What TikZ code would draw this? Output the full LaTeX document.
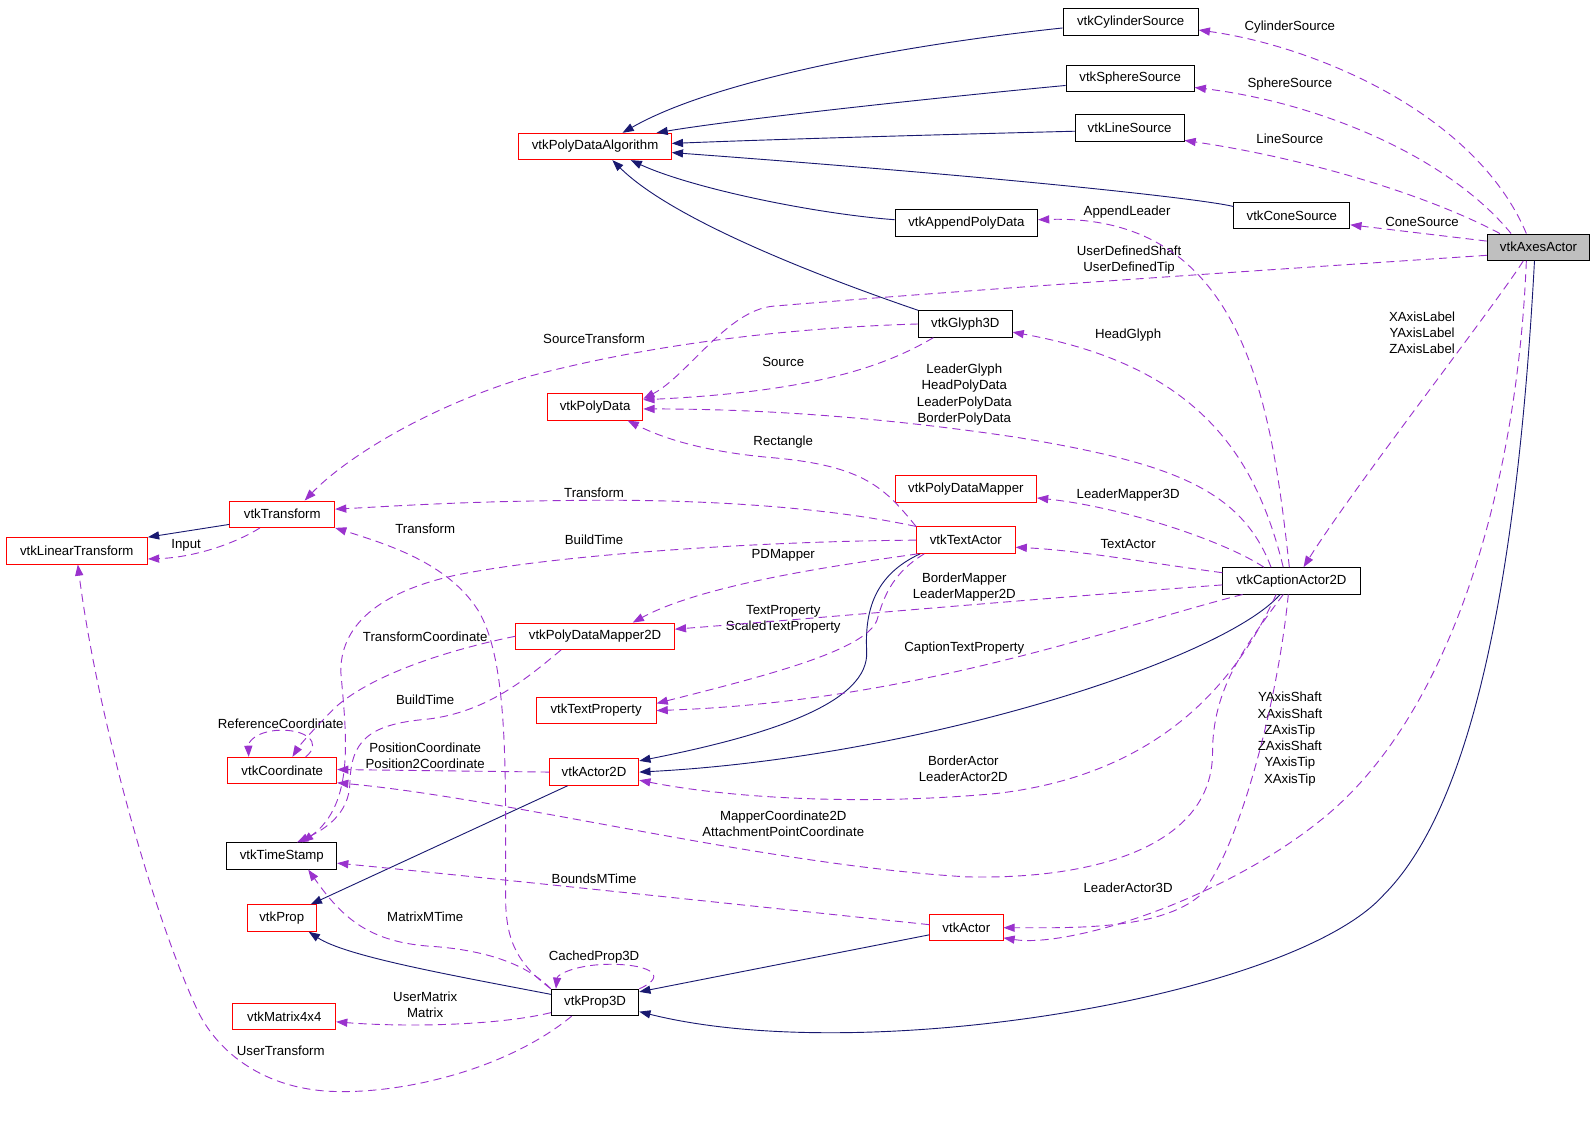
\documentclass[tikz,border=0pt]{standalone}
\usepackage{fontspec}
\setmainfont{Liberation Sans}
\usetikzlibrary{arrows.meta,calc}
\definecolor{edgeblue}{HTML}{191970}
\definecolor{edgepurple}{HTML}{9A32CD}
\begin{document}
\begin{tikzpicture}[x=1pt,y=-1pt,font=\fontsize{13}{16}\selectfont,
  box/.style={draw=black,fill=white,line width=0.9pt,minimum height=26pt,inner sep=0pt},
  isa/.style={draw=edgeblue,line width=0.9pt,-{Triangle[length=11pt,width=8pt]}},
  uses/.style={draw=edgepurple,line width=0.9pt,dash pattern=on 8pt off 5pt,-{Triangle[length=11pt,width=8pt]}},
  lbl/.style={inner sep=0pt,align=center}]
\useasboundingbox (0,0) rectangle (1568,1125);

% classes: name/x/y/width/text
\foreach \nm/\x/\y/\w/\txt in {cyl/1111.5/21.5/133/vtkCylinderSource,
  sph/1111/77/126/vtkSphereSource, line/1110.5/126/107/vtkLineSource,
  cone/1270/212/114/vtkConeSource, app/950/219/140/vtkAppendPolyData,
  glyph/949/318.5/92/vtkGlyph3D, caption/1269.5/571/135/vtkCaptionActor2D,
  tstamp/277/841.5/108/vtkTimeStamp, prop3d/585/985.5/86/vtkProp3D}
  \node[box,minimum width=\w pt] (\nm) at (\x,\y) {\txt};
\foreach \nm/\x/\y/\w/\txt in {pda/585/144/150/vtkPolyDataAlgorithm,
  pd/585/400/94/vtkPolyData, pdm/949.5/480.5/139/vtkPolyDataMapper,
  trans/277.5/505.5/103/vtkTransform, textact/949.5/531/97/vtkTextActor,
  lintrans/75.5/541.5/139/vtkLinearTransform, pdm2d/585/625.5/156/vtkPolyDataMapper2D,
  textprop/586/698.5/118/vtkTextProperty, coord/277.5/757.5/107/vtkCoordinate,
  act2d/584/759/88/vtkActor2D, prop/277/902.5/68/vtkProp,
  actor/950/912/72/vtkActor, mat/279.5/999.5/101/vtkMatrix4x4}
  \node[box,draw=red,minimum width=\w pt] (\nm) at (\x,\y) {\txt};
\node[box,fill=black!25,minimum width=101pt] (axes) at (1512.5,243) {vtkAxesActor};

% edge labels
\node[lbl] (lCyl) at (1268,27) {CylinderSource};
\node[lbl] (lSph) at (1268,83) {SphereSource};
\node[lbl] (lLine) at (1268,136) {LineSource};
\node[lbl] (lCone) at (1398,218) {ConeSource};
\node[lbl] (lApp) at (1108,208) {AppendLeader};
\node[lbl] (lUser) at (1110,256) {UserDefinedShaft\\UserDefinedTip};
\node[lbl] (lAxLbl) at (1398,327) {XAxisLabel\\YAxisLabel\\ZAxisLabel};
\node[lbl] (lHead) at (1109,329) {HeadGlyph};
\node[lbl] (lSrcT) at (584,333) {SourceTransform};
\node[lbl] (lSrc) at (770,356) {Source};
\node[lbl] (lPoly) at (948,388) {LeaderGlyph\\HeadPolyData\\LeaderPolyData\\BorderPolyData};
\node[lbl] (lRect) at (770,435) {Rectangle};
\node[lbl] (lTrA) at (584,484) {Transform};
\node[lbl] (lLM3) at (1109,487) {LeaderMapper3D};
\node[lbl] (lTrB) at (418,520) {Transform};
\node[lbl] (lBTa) at (584,531) {BuildTime};
\node[lbl] (lTA) at (1109,535) {TextActor};
\node[lbl] (lPDM) at (770,546) {PDMapper};
\node[lbl] (lBM) at (948,577) {BorderMapper\\LeaderMapper2D};
\node[lbl] (lTP) at (770,609) {TextProperty\\ScaledTextProperty};
\node[lbl] (lTC) at (418,626) {TransformCoordinate};
\node[lbl] (lCTP) at (948,637) {CaptionTextProperty};
\node[lbl] (lBTb) at (418,688) {BuildTime};
\node[lbl] (lAxis) at (1268,726.5) {YAxisShaft\\XAxisShaft\\ZAxisTip\\ZAxisShaft\\YAxisTip\\XAxisTip};
\node[lbl] (lRef) at (276,712) {ReferenceCoordinate};
\node[lbl] (lPos) at (418,743) {PositionCoordinate\\Position2Coordinate};
\node[lbl] (lBA) at (947,756) {BorderActor\\LeaderActor2D};
\node[lbl] (lMC) at (770,810) {MapperCoordinate2D\\AttachmentPointCoordinate};
\node[lbl] (lBMT) at (584,864) {BoundsMTime};
\node[lbl] (lLA3) at (1109,873) {LeaderActor3D};
\node[lbl] (lMMT) at (418,901) {MatrixMTime};
\node[lbl] (lCP) at (584,941) {CachedProp3D};
\node[lbl] (lUM) at (418,988) {UserMatrix\\Matrix};
\node[lbl] (lUT) at (276,1033) {UserTransform};
\node[lbl] (lIn) at (183,536) {Input};

% inheritance
\draw[isa] ($(cyl.west)+(0,6)$) .. controls (880,45) and (700,80) .. ($(pda.north)+(27,0)$);
\draw[isa] ($(sph.west)+(0,7)$) .. controls (900,98) and (720,118) .. ($(pda.north east)+(-15,0)$);
\draw[isa] ($(line.west)+(0,3)$) .. controls (900,133) and (760,137) .. ($(pda.east)+(0,-3)$);
\draw[isa] ($(cone.west)+(0,-9)$) .. controls (1185,196) and (1000,175) .. ($(pda.east)+(0,6)$);
\draw[isa] ($(app.west)+(0,-3)$) .. controls (800,210) and (680,185) .. ($(pda.south)+(35,0)$);
\draw[isa] (glyph.north west) .. controls (800,270) and (660,215) .. ($(pda.south)+(17,0)$);
\draw[isa] ($(trans.west)+(0,10)$) -- (lintrans.north east);
\draw[isa] ($(act2d.south)+(-26,0)$) -- ($(prop.north east)+(-6,0)$);
\draw[isa] ($(prop3d.west)+(0,-8)$) .. controls (440,958) and (340,940) .. ($(prop.south east)+(-8,0)$);
\draw[isa] ($(actor.west)+(0,7)$) -- ($(prop3d.north east)+(0,3)$);
\draw[isa] ($(axes.south)+(-4,0)$) .. controls (1490,600) and (1440,800) .. (1360,880)
  .. controls (1270,980) and (850,1050) .. ($(prop3d.east)+(0,9)$);
\draw[isa] ($(textact.south west)+(4,0)$) .. controls (860,565) and (850,600) .. (852,640)
  .. controls (855,690) and (760,722) .. ($(act2d.east)+(0,-11)$);
\draw[isa] ($(caption.south)+(-11,0)$) .. controls (1200,650) and (900,745) .. (act2d.east);

% usage
\draw[uses] ($(axes.north)+(-12,0)$) .. controls (1450,110) and (1290,45) .. ($(cyl.east)+(0,8)$);
\draw[uses] ($(axes.north)+(-27,0)$) .. controls (1420,150) and (1290,100) .. ($(sph.east)+(0,9)$);
\draw[uses] ($(axes.north)+(-38,0)$) .. controls (1400,190) and (1280,155) .. ($(line.east)+(0,12)$);
\draw[uses] ($(axes.west)+(0,-6)$) -- ($(cone.east)+(0,9)$);
\draw[uses] ($(axes.west)+(0,8)$) .. controls (1250,265) and (950,285) .. (760,301)
  .. controls (715,305) and (675,370) .. ($(pd.east)+(0,-8)$);
\draw[uses] ($(axes.south)+(-15,0)$) .. controls (1470,300) and (1330,480) .. ($(caption.north)+(12,0)$);
\draw[uses] ($(axes.south)+(-12,0)$) .. controls (1492,470) and (1430,700) .. (1300,805)
  .. controls (1200,886) and (1050,932) .. ($(actor.east)+(0,10)$);
\draw[uses] ($(caption.north)+(-2,0)$) .. controls (1250,400) and (1225,210) .. ($(app.east)+(0,-3)$);
\draw[uses] ($(caption.north)+(-8,0)$) .. controls (1235,450) and (1180,360) .. ($(glyph.east)+(0,8)$);
\draw[uses] ($(caption.north)+(-20,0)$) .. controls (1220,480) and (1150,455) .. (1000,430)
  .. controls (880,412) and (760,402) .. ($(pd.east)+(0,2)$);
\draw[uses] ($(caption.north)+(-27,0)$) .. controls (1200,530) and (1100,498) .. ($(pdm.east)+(0,9)$);
\draw[uses] ($(caption.west)+(0,-8)$) .. controls (1120,552) and (1060,541) .. ($(textact.east)+(0,7)$);
\draw[uses] ($(caption.west)+(0,4)$) .. controls (1000,590) and (800,608) .. ($(pdm2d.east)+(0,-7)$);
\draw[uses] ($(caption.south west)+(20,0)$) .. controls (1100,615) and (900,690) .. (textprop.east);
\draw[uses] ($(caption.south)+(-15,0)$) .. controls (1220,660) and (1150,760) .. (980,780)
  .. controls (850,792) and (720,785) .. ($(act2d.east)+(0,8)$);
\draw[uses] ($(caption.south)+(-8,0)$) .. controls (1220,640) and (1192,680) .. (1192,740)
  .. controls (1192,830) and (1080,865) .. (950,862)
  .. controls (750,850) and (500,785) .. ($(coord.east)+(0,12)$);
\draw[uses] ($(caption.south)+(-3,0)$) .. controls (1255,700) and (1215,840) .. (1180,880)
  .. controls (1140,915) and (1050,912) .. (actor.east);
\draw[uses] (glyph.west) .. controls (780,322) and (640,338) .. (520,370)
  .. controls (420,400) and (340,450) .. ($(trans.north)+(22,0)$);
\draw[uses] ($(glyph.south west)+(15,0)$) .. controls (870,360) and (800,385) .. ($(pd.east)+(0,-7)$);
\draw[uses] (textact.north west) .. controls (870,480) and (850,458) .. (760,450)
  .. controls (690,444) and (650,430) .. ($(pd.south)+(32,0)$);
\draw[uses] (textact.north west) .. controls (820,500) and (700,490) .. (560,492)
  .. controls (450,493) and (380,498) .. ($(trans.east)+(0,-5)$);
\draw[uses] (textact.west) .. controls (750,532) and (550,545) .. (450,565)
  .. controls (380,580) and (335,610) .. (335,660)
  .. controls (340,720) and (350,790) .. ($(tstamp.north)+(20,0)$);
\draw[uses] ($(pdm2d.south west)+(45,0)$) .. controls (520,665) and (480,700) .. (420,707)
  .. controls (360,712) and (345,730) .. (344,770)
  .. controls (343,800) and (320,815) .. ($(tstamp.north)+(15,0)$);
\draw[uses] ($(textact.south west)+(2,0)$) .. controls (820,556) and (690,575) .. ($(pdm2d.north)+(37,0)$);
\draw[uses] ($(textact.south west)+(8,0)$) .. controls (875,565) and (868,590) .. (862,610)
  .. controls (850,640) and (750,665) .. ($(textprop.east)+(0,-7)$);
\draw[uses] (pdm2d.west) .. controls (450,637) and (370,660) .. (330,695)
  .. controls (310,715) and (295,732) .. ($(coord.north)+(10,0)$);
\draw[uses] ($(coord.north)+(23,0)$) .. controls (318,730) and (300,716) .. (272,718)
  .. controls (250,720) and (244,730) .. ($(coord.north)+(-33,0)$);
\draw[uses] (act2d.west) -- ($(coord.east)+(0,-1)$);
\draw[uses] ($(actor.west)+(0,-3)$) .. controls (780,895) and (500,865) .. ($(tstamp.east)+(0,7)$);
\draw[uses] (prop3d.north west) .. controls (515,945) and (470,933) .. (420,930)
  .. controls (360,925) and (335,900) .. ($(tstamp.south)+(26,0)$);
\draw[uses] (prop3d.north east) .. controls (660,958) and (635,947) .. (595,948)
  .. controls (565,949) and (548,958) .. ($(prop3d.north west)+(5,0)$);
\draw[uses] ($(prop3d.west)+(0,10)$) .. controls (490,1008) and (400,1010) .. ($(mat.east)+(0,5)$);
\draw[uses] ($(prop3d.south)+(-23,0)$) .. controls (500,1050) and (400,1075) .. (329,1073)
  .. controls (260,1071) and (215,1035) .. (195,995)
  .. controls (150,900) and (95,700) .. ($(lintrans.south)+(1,0)$);
\draw[uses] (prop3d.north west) .. controls (505,945) and (497,920) .. (497,880)
  .. controls (497,760) and (500,650) .. (470,600)
  .. controls (440,553) and (380,535) .. (trans.south east);
\draw[uses] ($(trans.south west)+(30,0)$) .. controls (230,535) and (190,548) .. ($(lintrans.east)+(0,8)$);
\end{tikzpicture}
\end{document}
